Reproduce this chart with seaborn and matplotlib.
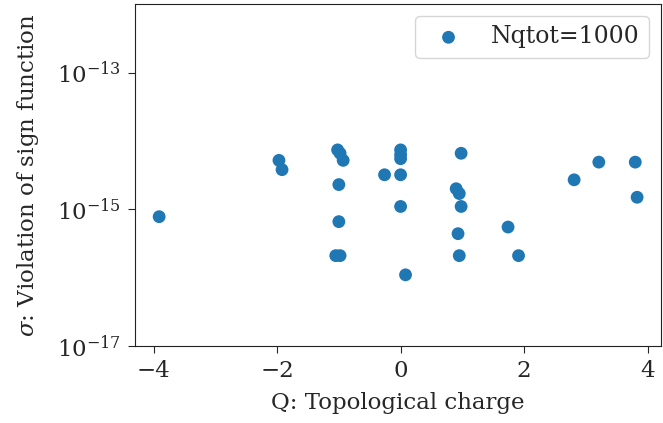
import matplotlib
matplotlib.use("Agg")
import matplotlib.pyplot as plt
import pandas as pd
import seaborn as sns

# topological charge and sign-function violation
Q = [-3.91, -1.97, -1.92, -1.02, -0.98, -0.93, -1.00, -1.00, -1.05, -0.98,
     -0.26, 0.0, 0.0, 0.0, 0.0, 0.0, 0.08, 0.98, 0.90, 0.95,
     0.98, 0.93, 0.95, 1.74, 1.91, 2.81, 3.21, 3.80, 3.83]
SIGMA = [7.8e-16, 5.2e-15, 3.8e-15, 7.4e-15, 6.6e-15, 5.2e-15, 2.3e-15, 6.6e-16, 2.1e-16, 2.1e-16,
         3.2e-15, 7.4e-15, 6.3e-15, 5.5e-15, 3.2e-15, 1.1e-15, 1.1e-16, 6.6e-15, 2.0e-15, 1.7e-15,
         1.1e-15, 4.4e-16, 2.1e-16, 5.5e-16, 2.1e-16, 2.7e-15, 4.9e-15, 4.9e-15, 1.5e-15]
LABEL = "Nqtot=1000"

sns.set_style("ticks")
plt.rcParams["font.family"] = ["DejaVu Serif"]
plt.rcParams["mathtext.fontset"] = "dejavuserif"

df = pd.DataFrame({"Q": Q, "sigma": SIGMA})

fig = plt.figure(figsize=(6.63, 4.23), dpi=100)
ax = fig.add_axes([0.204, 0.182, 0.793, 0.808])
sns.scatterplot(x="Q", y="sigma", data=df, color="#1f77b4", s=85, edgecolor="none",
                label=LABEL, ax=ax)
ax.set_yscale("log")
ax.set_ylim(1e-17, 1e-12)
ax.set_yticks([1e-17, 1e-15, 1e-13])
ax.minorticks_off()
ax.set_xticks([-4, -2, 0, 2, 4])
ax.set_xlabel("Q: Topological charge", fontsize=16.5, labelpad=7)
ax.set_ylabel(r"$\sigma$: Violation of sign function", fontsize=16.5, labelpad=12)
ax.tick_params(labelsize=16.5, direction="out", length=5, pad=5)
for sp in ax.spines.values():
    sp.set_color("#222222")
ax.legend(loc="upper right", fontsize=17)

plt.savefig("out.png", dpi=100)
